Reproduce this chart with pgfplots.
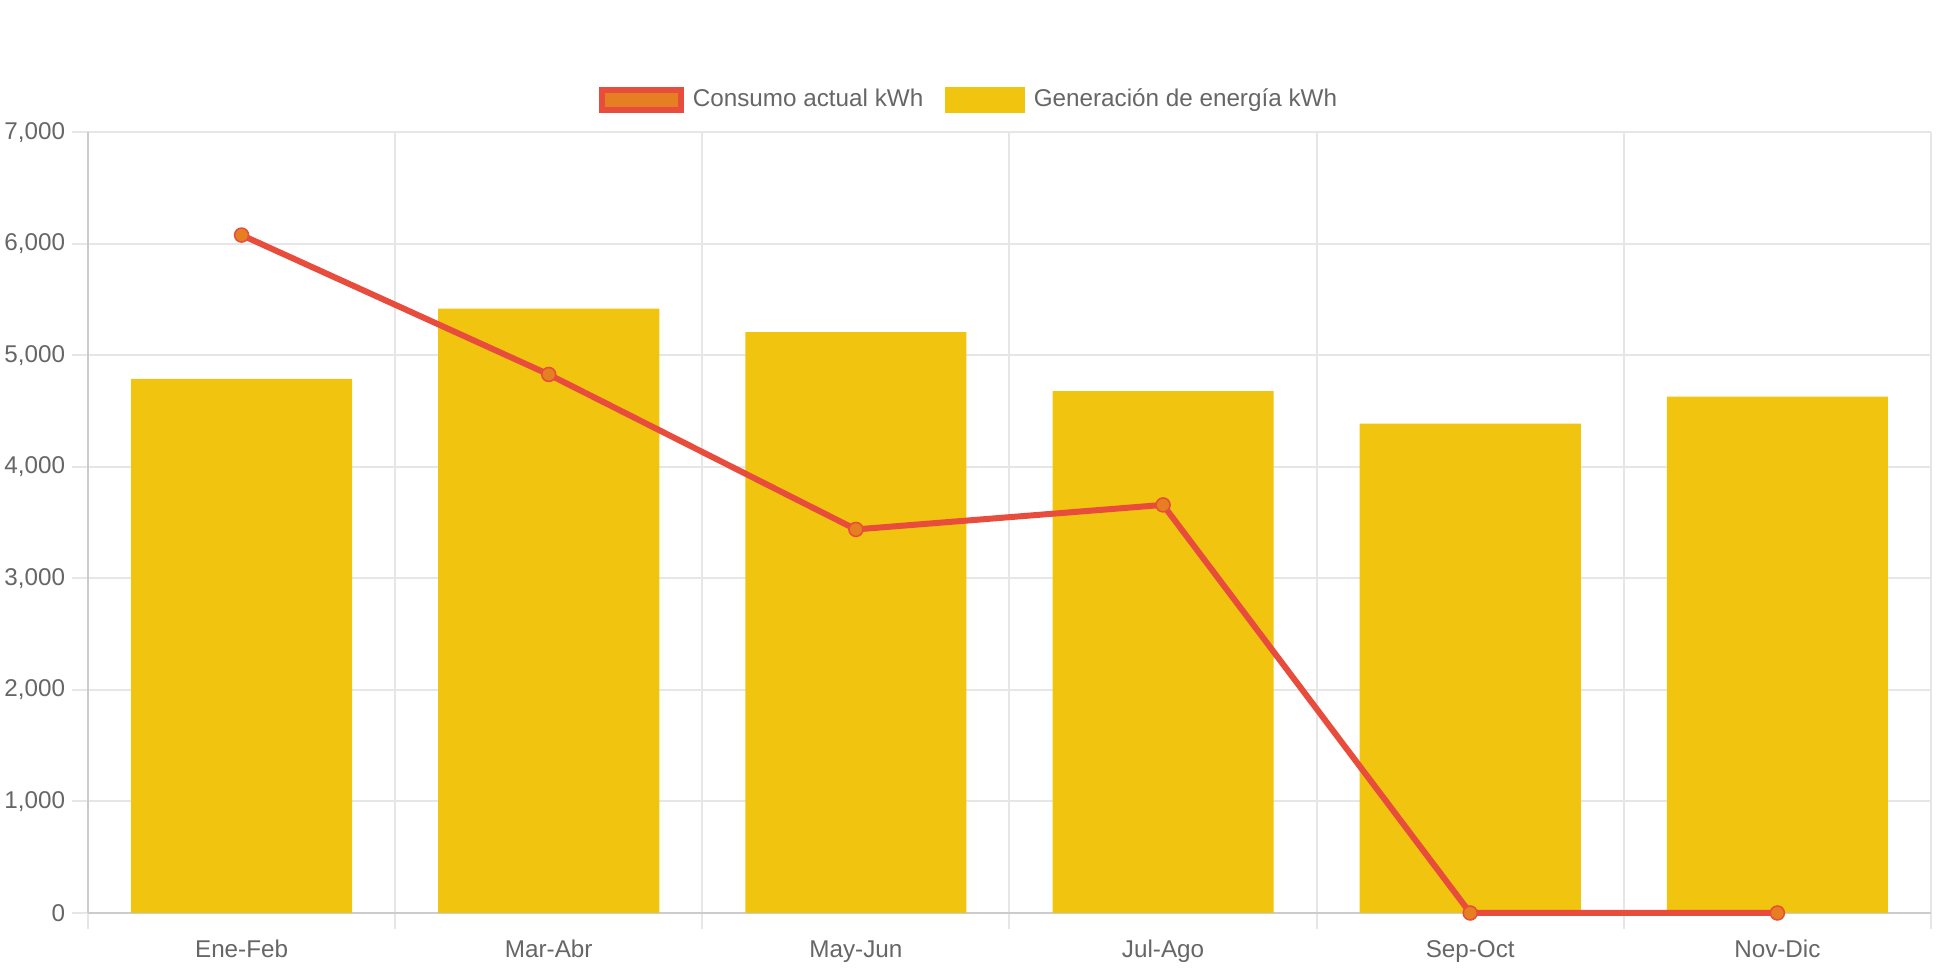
\documentclass[border=0pt]{standalone}
\usepackage{pgfplots}
\pgfplotsset{compat=1.18}
\usepackage{fontspec}
\setmainfont{Liberation Sans}
\definecolor{barc}{HTML}{F1C40F}
\definecolor{linec}{HTML}{E74C3C}
\definecolor{markc}{HTML}{E67E22}
\definecolor{txt}{HTML}{666666}
\definecolor{gridc}{HTML}{E6E6E6}
\definecolor{axc}{HTML}{CCCCCC}
\newcommand{\chartfont}{\fontsize{6.9}{8}\selectfont}
\begin{document}
\begin{tikzpicture}
\useasboundingbox (-8.8mm,-5.7mm) rectangle (185.4mm,91.3mm);
\begin{axis}[
  at={(0,0)}, anchor=south west,
  scale only axis, width=184.3mm, height=78.05mm,
  xmin=-0.5, xmax=5.5, ymin=0, ymax=7000,
  xtick={0,1,2,3,4,5},
  xticklabels={Ene-Feb,Mar-Abr,May-Jun,Jul-Ago,Sep-Oct,Nov-Dic},
  minor xtick={-0.5,0.5,1.5,2.5,3.5,4.5,5.5},
  ytick={0,1000,2000,3000,4000,5000,6000,7000},
  ymajorgrids, xminorgrids,
  grid style={draw=gridc, line width=0.2mm},
  axis lines=left,
  axis line style={-, draw=axc, line width=0.2mm},
  tick align=outside,
  major tick length=1.6mm, minor tick length=1.6mm,
  tick style={draw=gridc, line width=0.2mm},
  major x tick style={draw=none},
  scaled y ticks=false,
  /pgf/number format/.cd, 1000 sep={,}, assume math mode=true,
  /pgfplots/.cd,
  ticklabel style={font=\chartfont, text=txt},
  yticklabel style={xshift=0.55mm},
  xticklabel style={yshift=0.1mm},
  legend style={at={(0.5,1)}, anchor=center, xshift=-3.9mm, yshift=3.25mm, draw=none, fill=none,
    font=\chartfont, text=txt, inner sep=0pt,
    /tikz/every even column/.append style={column sep=1.7mm},
    /tikz/every odd column/.append style={column sep=0.4mm},
    nodes={inner sep=0.5mm}},
  legend columns=2,
  clip=false,
]
\addplot[ybar, bar width=0.72, fill=barc, draw=none, forget plot] coordinates {
  (0,4790) (1,5420) (2,5210) (3,4680) (4,4390) (5,4630)};
\addplot[color=linec, line width=0.6mm, mark=*, mark size=0.7mm,
  mark options={fill=markc, draw=linec, line width=0.15mm}, forget plot] coordinates {
  (0,6080) (1,4830) (2,3440) (3,3660) (4,0) (5,0)};
\addlegendimage{legend image code/.code={\draw[fill=markc, draw=linec, line width=0.6mm] (0mm,-1.0mm) rectangle (7.9mm,1.0mm);}}
\addlegendentry{Consumo actual kWh}
\addlegendimage{legend image code/.code={\fill[barc] (0mm,-1.2mm) rectangle (7.8mm,1.2mm);}}
\addlegendentry{Generación de energía kWh}
\end{axis}
\end{tikzpicture}
\end{document}
